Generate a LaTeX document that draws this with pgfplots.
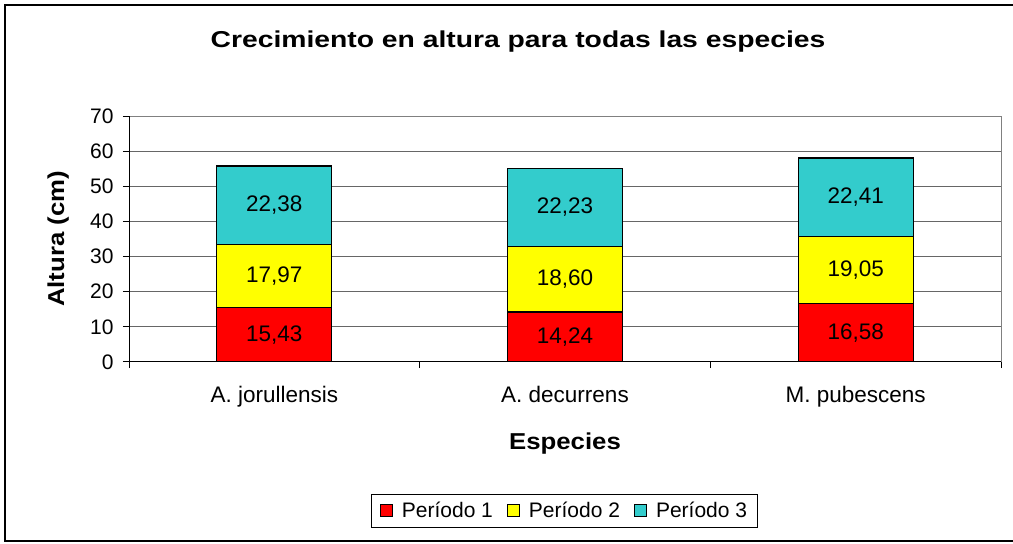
\documentclass[border=0pt]{standalone}
\usepackage{fontspec}
\setmainfont{Liberation Sans}
\usepackage{pgfplots}
\usepackage{pgfplotstable}
\pgfplotsset{compat=1.18}
\usepackage{graphicx}
\definecolor{pone}{HTML}{FF0000}
\definecolor{ptwo}{HTML}{FFFF00}
\definecolor{pthree}{HTML}{33CCCC}
\pgfplotstableread{
x p1 p2 p3
0 15.43 17.97 22.38
1 14.24 18.60 22.23
2 16.58 19.05 22.41
}\data
\newcommand{\tickfont}{\fontsize{21}{25}\selectfont}
\newcommand{\labfont}{\fontsize{22.5}{27}\selectfont}
\newcommand{\legfont}{\fontsize{21}{25}\selectfont}
\newcommand{\boldfont}{\fontsize{23}{27}\selectfont\bfseries}
\begin{document}
\begin{tikzpicture}[x=1pt,y=1pt]
\useasboundingbox (0,0) rectangle (1013,544);
\fill[white] (0,0) rectangle (1013,544);
\draw[line width=2pt] (5,3) rectangle (1030,539);
\node[anchor=base] at (518,496.7) {\scalebox{1.23}[1]{\boldfont Crecimiento en altura para todas las especies}};
\begin{axis}[
  at={(129pt,182pt)}, anchor=south west,
  scale only axis, width=872pt, height=246pt,
  xmin=-0.5, xmax=2.5, ymin=0, ymax=70,
  ybar stacked, bar width=115pt,
  /pgf/number format/assume math mode=true,
  ytick={0,10,...,70},
  xtick={-0.5,0.5,1.5,2.5}, xticklabels={},
  extra x ticks={0,1,2},
  extra x tick labels={A. jorullensis, A. decurrens, M. pubescens},
  extra x tick style={major tick length=0pt, xticklabel style={anchor=base, yshift=-41pt}},
  tick align=outside, tick pos=left, major tick length=6pt,
  tick style={black, line width=1pt},
  ymajorgrids, major grid style={black!60, line width=1pt},
  axis line style={black!50, line width=1pt},
  ticklabel style={font=\tickfont},
  yticklabel style={xshift=-6pt},
  xticklabel style={font=\labfont},
  xlabel={\scalebox{1.12}[1]{\boldfont Especies}},
  xlabel style={at={(axis description cs:0.5,0)}, anchor=base, yshift=-87pt},
  ylabel={\scalebox{1.12}[1]{\boldfont Altura (cm)}},
  ylabel style={at={(axis description cs:-0.0745,0.5)}, anchor=base},
  legend style={at={(axis description cs:0.4994,-0.6057)}, anchor=center,
    legend columns=3, draw=black, line width=1pt, font=\legfont,
    /tikz/every odd column/.append style={column sep=7pt},
    /tikz/every even column/.append style={column sep=12pt},
    inner xsep=8pt, inner ysep=6pt},
  legend image code/.code={\draw[#1, draw=black, line width=1pt] (0pt,-5pt) rectangle (12pt,7pt);},
]
\addplot[fill=pone, draw=black, line width=1.2pt] table[x=x, y=p1] {\data};
\addplot[fill=ptwo, draw=black, line width=1.2pt] table[x=x, y=p2] {\data};
\addplot[fill=pthree, draw=black, line width=1.2pt] table[x=x, y=p3] {\data};
\legend{Período 1, Período 2, Período 3}
\draw[black, line width=1pt] (rel axis cs:0,1) -- (rel axis cs:0,0) -- (rel axis cs:1,0);
\end{axis}
\begin{axis}[
  at={(129pt,182pt)}, anchor=south west,
  scale only axis, width=872pt, height=246pt,
  xmin=-0.5, xmax=2.5, ymin=0, ymax=70,
  hide axis,
  /pgf/number format/assume math mode=true,
  nodes near coords={\pgfmathprintnumber[fixed,fixed zerofill,precision=2,use comma,assume math mode=true]{\pgfplotspointmeta}},
  nodes near coords style={anchor=center, font=\labfont, text=black},
  point meta=explicit,
]
\addplot[draw=none, mark=none] table[x=x, y expr=\thisrow{p1}/2, meta=p1] {\data};
\addplot[draw=none, mark=none] table[x=x, y expr=\thisrow{p1}+\thisrow{p2}/2, meta=p2] {\data};
\addplot[draw=none, mark=none] table[x=x, y expr=\thisrow{p1}+\thisrow{p2}+\thisrow{p3}/2, meta=p3] {\data};
\end{axis}
\end{tikzpicture}
\end{document}
